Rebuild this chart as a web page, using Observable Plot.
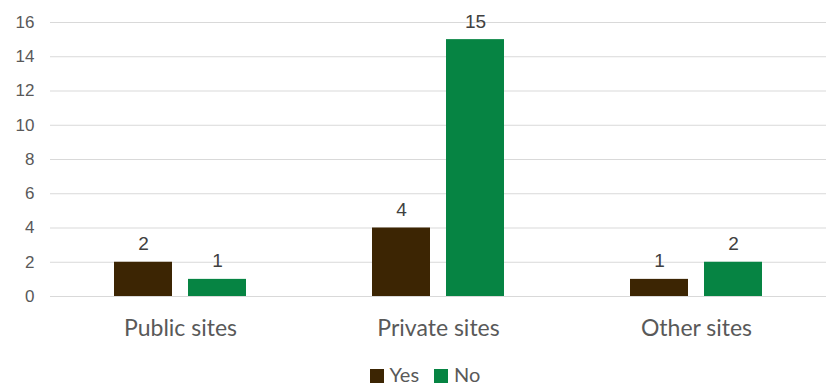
<!DOCTYPE html>
<html><head><meta charset="utf-8">
<script src="https://cdn.jsdelivr.net/npm/d3@7"></script>
<script src="https://cdn.jsdelivr.net/npm/@observablehq/plot@0.6"></script>
<style>
body{margin:0;background:#fff;font-family:Lato,sans-serif;overflow:hidden}
#chart svg{display:block}
#legend{display:flex;justify-content:center;align-items:center;gap:15px;font-size:20px;line-height:28px;color:#595959;height:28px;margin-top:15px;margin-left:20px}
#legend span.sw{display:inline-block;width:14px;height:14px;margin-right:6px;vertical-align:-1px}
</style></head>
<body><div id="chart"></div><div id="legend"></div>
<script>
const categories = ["Public sites", "Private sites", "Other sites"];
const seriesNames = ["Yes", "No"];
const yesValues = [2, 4, 1];
const noValues = [1, 15, 2];
const yTicks = [0, 2, 4, 6, 8, 10, 12, 14, 16];
const colors = ["#3c2503", "#068443"];

const data = [];
categories.forEach((c, i) => {
  data.push({category: c, series: "Yes", value: yesValues[i]});
  data.push({category: c, series: "No", value: noValues[i]});
});

const yesData = data.filter(d => d.series === "Yes");
const noData = data.filter(d => d.series === "No");

const plot = Plot.plot({
  width: 830,
  height: 345,
  marginLeft: 50,
  marginRight: 4,
  marginTop: 22,
  marginBottom: 49,
  style: {fontFamily: "Lato, sans-serif", color: "#595959", background: "#fff"},
  x: {domain: categories, paddingInner: 0.775, paddingOuter: 0.39, label: null},
  y: {domain: [0, 16], label: null},
  color: {domain: seriesNames, range: colors},
  marks: [
    Plot.gridY(yTicks, {stroke: "#d9d9d9", strokeOpacity: 1, strokeWidth: 1.2}),
    Plot.barY(yesData, {x: "category", y: "value", fill: "series", dx: -37}),
    Plot.barY(noData, {x: "category", y: "value", fill: "series", dx: 37}),
    Plot.text(yesData, {x: "category", y: "value", text: d => String(d.value), dx: -37, dy: -12, lineAnchor: "bottom", fill: "#404040", fontSize: 19, fontFamily: "'Liberation Sans', Arial, sans-serif"}),
    Plot.text(noData, {x: "category", y: "value", text: d => String(d.value), dx: 37, dy: -12, lineAnchor: "bottom", fill: "#404040", fontSize: 19, fontFamily: "'Liberation Sans', Arial, sans-serif"}),
    Plot.axisY(yTicks, {tickSize: 0, tickPadding: 16, fontSize: 17, fill: "#595959", fontFamily: "'Liberation Sans', Arial, sans-serif"}),
    Plot.axisX({tickSize: 0, tickPadding: 23, fontSize: 23, fill: "#595959", fontFamily: "Lato, sans-serif"})
  ]
});
document.getElementById("chart").appendChild(plot);

const legend = document.getElementById("legend");
seriesNames.forEach((s, i) => {
  const item = document.createElement("div");
  item.innerHTML = `<span class="sw" style="background:${colors[i]}"></span>${s}`;
  legend.appendChild(item);
});
</script>
</body></html>
